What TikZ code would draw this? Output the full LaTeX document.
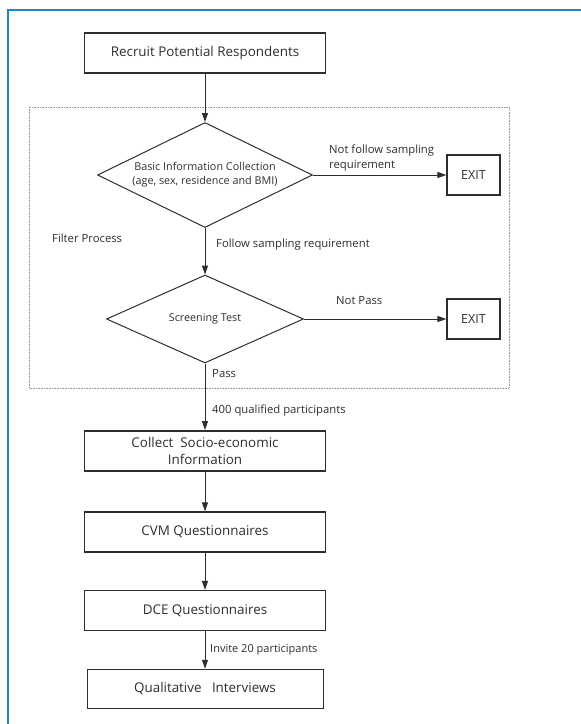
\documentclass[tikz,border=0pt]{standalone}
\usepackage{fontspec}
\setmainfont{Open Sans}
\usetikzlibrary{shapes.geometric,arrows.meta}
\definecolor{ink}{HTML}{2E2E2E}
\definecolor{frame}{HTML}{1E88C4}
\begin{document}
\begin{tikzpicture}[x=1pt,y=-1pt,
  box/.style={draw=ink, line width=1.2, rectangle, minimum width=241, minimum height=40, inner sep=0, font=\fontsize{13.4}{16.5}\selectfont, text=ink, align=center},
  bold box/.style={box, line width=1.8},
  dia/.style={draw=ink, line width=1, diamond, aspect=2, inner sep=0, text=ink, font=\fontsize{10.8}{14}\selectfont, align=center},
  exitbox/.style={draw=ink, line width=1.2, rectangle, minimum width=53, minimum height=40, inner sep=0, text=ink, font=\fontsize{12.5}{14}\selectfont},
  lbl/.style={text=ink, font=\fontsize{11.3}{14.5}\selectfont, anchor=west, inner sep=0, align=left},
  arr/.style={draw=ink, line width=1, -{Triangle[length=9pt,width=6pt]}}
]
\useasboundingbox (0,0) rectangle (581,724);
\draw[frame, line width=2] (8,724) -- (8,10) -- (581,10);
\draw[gray!80, densely dotted, line width=0.6] (29,107) rectangle (509,388);

\node[bold box] (rec) at (205,53) {Recruit Potential Respondents};
\node[dia, minimum width=215, minimum height=105] (d1) at (205,175) {Basic Information Collection\\(age, sex, residence and BMI)};
\node[exitbox] (e1) at (473.5,175) {EXIT};
\node[dia, minimum width=197, minimum height=88] (d2) at (205,319) {Screening Test};
\node[exitbox] (e2) at (473.5,319) {EXIT};
\node[bold box] (col) at (205,451) {Collect\ \ Socio-economic\\Information};
\node[box] (cvm) at (205,532) {CVM Questionnaires};
\node[box] (dce) at (205,610.5) {DCE Questionnaires};
\node[box, minimum width=236, minimum height=39.5, line width=1] (qual) at (205,689) {Qualitative\ \ \ Interviews};

\node[lbl] (l1) at (329,158) {Not follow sampling\\requirement};
\node[lbl] (l2) at (52,238) {Filter Process};
\node[lbl] (l3) at (216,245) {Follow sampling requirement};
\node[lbl] (l4) at (336,301) {Not Pass};
\node[lbl] (l5) at (212,374) {Pass};
\node[lbl] (l6) at (212,411) {400 qualified participants};
\node[lbl, font=\fontsize{11}{13}\selectfont] (l7) at (210,650) {Invite 20 participants};

\draw[arr] (rec) -- (d1);
\draw[arr] (d1) -- (e1);
\draw[arr] (d1) -- (d2);
\draw[arr] (d2) -- (e2);
\draw[arr] (d2) -- (col);
\draw[arr] (col) -- (cvm);
\draw[arr] (cvm) -- (dce);
\draw[arr] (dce) -- (qual);
\end{tikzpicture}
\end{document}
